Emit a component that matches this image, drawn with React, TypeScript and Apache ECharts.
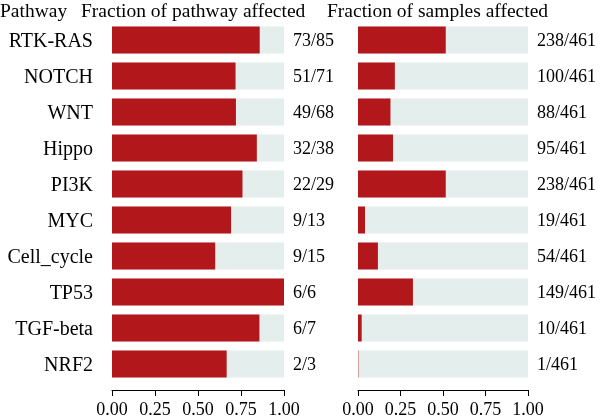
import React, { useEffect, useRef } from "react";
import * as echarts from "echarts";

const pathways = ["RTK-RAS", "NOTCH", "WNT", "Hippo", "PI3K", "MYC", "Cell_cycle", "TP53", "TGF-beta", "NRF2"];
const genesAffected = [73, 51, 49, 32, 22, 9, 9, 6, 6, 2];
const genesTotal = [85, 71, 68, 38, 29, 13, 15, 6, 7, 3];
const samplesAffected = [238, 100, 88, 95, 238, 19, 54, 149, 10, 1];
const samplesTotal = 461;
const headers = ["Pathway", "Fraction of pathway affected", "Fraction of samples affected"];

const RED = "#B2181B";
const BG = "#E4EEEC";
const FONT = "'Liberation Serif', 'Times New Roman', serif";
const FS = 18;
const FS_TXT = 19.5;

export default function App() {
  const ref = useRef<HTMLDivElement>(null);
  useEffect(() => {
    if (!ref.current) return;
    const chart = echarts.init(ref.current, null, { renderer: "svg" });
    const xAxisCommon = (gi: number) => ({
      type: "value",
      gridIndex: gi,
      min: 0,
      max: 1,
      interval: 0.25,
      offset: 8,
      axisLine: { show: true, lineStyle: { color: "#000", width: 1 } },
      axisTick: { show: true, length: 6, lineStyle: { color: "#000", width: 1 } },
      axisLabel: {
        formatter: (v: number) => v.toFixed(2),
        fontSize: FS,
        color: "#000",
        fontFamily: FONT,
        margin: 10,
      },
      splitLine: { show: false },
    });
    const yAxisCommon = (gi: number, showLabel: boolean) => ({
      type: "category",
      gridIndex: gi,
      data: pathways,
      inverse: true,
      axisLine: { show: false },
      axisTick: { show: false },
      axisLabel: {
        show: showLabel,
        fontSize: 20,
        color: "#000",
        fontFamily: FONT,
        margin: 19,
        padding: [0, 0, 10, 0],
      },
      splitLine: { show: false },
    });
    const bgSeries = (gi: number, fmt: (i: number) => string) => ({
      type: "bar",
      xAxisIndex: gi,
      yAxisIndex: gi,
      data: pathways.map(() => 1),
      barWidth: 27,
      silent: true,
      itemStyle: { color: BG },
      label: {
        show: true,
        position: "right",
        distance: 9,
        formatter: (p: any) => fmt(p.dataIndex),
        fontSize: FS,
        color: "#000",
        fontFamily: FONT,
      },
      z: 1,
    });
    const fgSeries = (gi: number, data: number[]) => ({
      type: "bar",
      xAxisIndex: gi,
      yAxisIndex: gi,
      data,
      barWidth: 27,
      barGap: "-100%",
      silent: true,
      itemStyle: { color: RED },
      z: 2,
    });
    const headerText = (x: number, t: string) => ({
      type: "text",
      x,
      y: 10.5,
      style: { text: t, fontSize: FS_TXT, fontFamily: FONT, fill: "#000", verticalAlign: "middle" },
    });
    chart.setOption({
      animation: false,
      textStyle: { fontFamily: FONT },
      grid: [
        { left: 112, width: 172, top: 22, height: 360 },
        { left: 358, width: 170, top: 22, height: 360 },
      ],
      xAxis: [xAxisCommon(0), xAxisCommon(1)],
      yAxis: [yAxisCommon(0, true), yAxisCommon(1, false)],
      series: [
        bgSeries(0, (i) => `${genesAffected[i]}/${genesTotal[i]}`),
        fgSeries(0, genesAffected.map((v, i) => v / genesTotal[i])),
        bgSeries(1, (i) => `${samplesAffected[i]}/${samplesTotal}`),
        fgSeries(1, samplesAffected.map((v) => v / samplesTotal)),
      ],
      graphic: [headerText(0, headers[0]), headerText(81, headers[1]), headerText(327, headers[2])],
    });
    return () => chart.dispose();
  }, []);
  return <div ref={ref} style={{ position: "fixed", left: 0, top: 0, width: 600, height: 418 }} />;
}
